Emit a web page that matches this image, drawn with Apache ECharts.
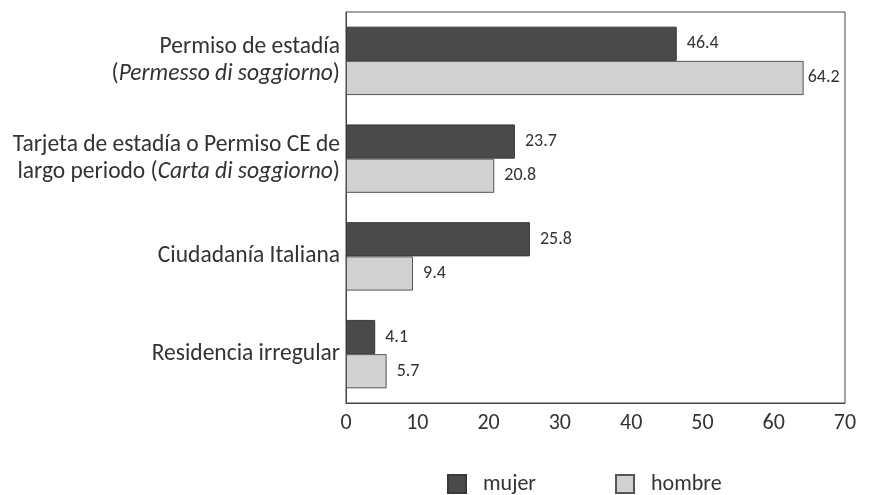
<!DOCTYPE html>
<html>
<head>
<meta charset="utf-8">
<script src="https://cdn.jsdelivr.net/npm/echarts@6/dist/echarts.min.js"></script>
<style>
  html, body { margin: 0; padding: 0; background: #fff; }
  #chart { width: 883px; height: 495px; }
</style>
</head>
<body>
<div id="chart"></div>
<script>
var categories = [
    'Permiso de estadía\n({i|Permesso di soggiorno})',
    'Tarjeta de estadía o Permiso CE de\nlargo periodo ({i|Carta di soggiorno})',
    'Ciudadanía Italiana',
    'Residencia irregular'
];
var mujer = [46.4, 23.7, 25.8, 4.1];
var hombre = [64.2, 20.8, 9.4, 5.7];
var xTicks = [0, 10, 20, 30, 40, 50, 60, 70];

var fontFam = 'Carlito, "Open Sans", "Noto Sans", sans-serif';
var textColor = '#333';

// la etiqueta de 64.2 queda pegada al borde derecho
var hombreData = hombre.map(function (v, i) {
    return i === 0 ? { value: v, label: { distance: 4 } } : v;
});

var myChart = echarts.init(document.getElementById('chart'));
var option = {
    animation: false,
    textStyle: { fontFamily: fontFam, color: textColor },
    // caja del gráfico
    grid: {
        left: 346, right: 38, top: 12, bottom: 92,
        show: true, borderColor: '#444', borderWidth: 1
    },
    legend: {
        top: 468,
        left: 442,
        itemWidth: 18,
        itemHeight: 18,
        itemGap: 79,
        icon: 'rect',
        textStyle: { fontSize: 22, color: textColor, fontFamily: fontFam, padding: [0, 0, 0, 12] },
        data: ['mujer', 'hombre']
    },
    xAxis: {
        type: 'value',
        min: xTicks[0],
        max: xTicks[xTicks.length - 1],
        interval: 10,
        axisLine: { show: true, lineStyle: { color: '#444' } },
        axisTick: { show: false },
        splitLine: { show: false },
        axisLabel: { fontSize: 22, color: textColor, margin: 9, fontFamily: fontFam }
    },
    yAxis: {
        type: 'category',
        inverse: true,
        data: categories,
        axisLine: { show: true, lineStyle: { color: '#444' } },
        axisTick: { show: false },
        axisLabel: {
            fontSize: 23.5, color: textColor, margin: 6, align: 'right',
            lineHeight: 27, fontFamily: fontFam,
            rich: { i: { fontStyle: 'italic', fontSize: 23.5, lineHeight: 27, color: textColor, fontFamily: fontFam } }
        }
    },
    series: [{
        name: 'mujer',
        type: 'bar',
        data: mujer,
        barGap: '0%',
        barCategoryGap: '30%',
        itemStyle: { color: '#4a4a4c', borderColor: '#3a3a3a', borderWidth: 1 },
        label: { show: true, position: 'right', distance: 10, fontSize: 18, color: textColor, fontFamily: fontFam }
    }, {
        name: 'hombre',
        type: 'bar',
        data: hombreData,
        barGap: '0%',
        barCategoryGap: '30%',
        itemStyle: { color: '#d0d1d3', borderColor: '#555', borderWidth: 1 },
        label: { show: true, position: 'right', distance: 10, fontSize: 18, color: textColor, fontFamily: fontFam }
    }]
};
myChart.setOption(option);
</script>
</body>
</html>
